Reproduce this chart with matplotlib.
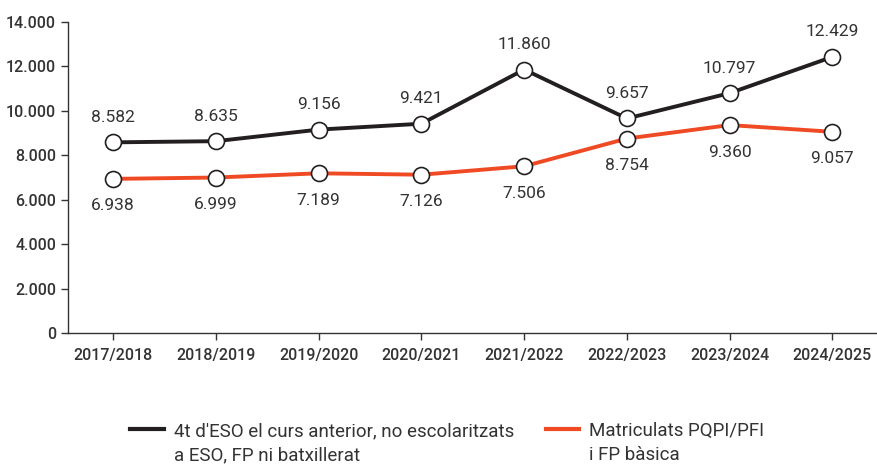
import matplotlib.pyplot as plt
from matplotlib.legend_handler import HandlerLine2D
from matplotlib.lines import Line2D
from matplotlib.ticker import FuncFormatter

cursos = ['2017/2018', '2018/2019', '2019/2020', '2020/2021',
          '2021/2022', '2022/2023', '2023/2024', '2024/2025']
no_escolaritzats = [8582, 8635, 9156, 9421, 11860, 9657, 10797, 12429]
matriculats = [6938, 6999, 7189, 7126, 7506, 8754, 9360, 9057]

label_negre = "4t d'ESO el curs anterior, no escolaritzats\na ESO, FP ni batxillerat"
label_vermell = 'Matriculats PQPI/PFI\ni FP bàsica'

plt.rcParams['font.family'] = ['Roboto', 'DejaVu Sans']
text_color = '#333333'
negre = '#231f20'
vermell = '#ef4a24'


def punts(n):
    return f'{n:,}'.replace(',', '.')


# legend line sits on the first line of the label, not in the middle
class HandlerTop(HandlerLine2D):
    def create_artists(self, legend, orig_handle, xdescent, ydescent,
                       width, height, fontsize, trans):
        return super().create_artists(legend, orig_handle, xdescent,
                                      ydescent - 1.55 * fontsize, width, height,
                                      fontsize, trans)


fig = plt.figure(figsize=(8.77, 4.66), dpi=100)
ax = fig.add_axes([0.0775, 0.2854, 0.922, 0.6674])

x = list(range(len(cursos)))
ax.plot(x, no_escolaritzats, color=negre, lw=2.8, marker='o', ms=11.5,
        mfc='white', mec=negre, mew=1.2, zorder=3)
ax.plot(x, matriculats, color=vermell, lw=2.8, marker='o', ms=11.5,
        mfc='white', mec=negre, mew=1.2, zorder=3)

for i, v in enumerate(no_escolaritzats):
    ax.annotate(punts(v), (i, v), xytext=(0, 18), textcoords='offset points',
                ha='center', va='center', fontsize=12.5, color=text_color)
for i, v in enumerate(matriculats):
    ax.annotate(punts(v), (i, v), xytext=(0, -19.5), textcoords='offset points',
                ha='center', va='center', fontsize=12.5, color=text_color)

ax.set_xlim(-0.44, 7.43)
ax.set_ylim(0, 14000)
ax.set_yticks(range(0, 14001, 2000))
ax.yaxis.set_major_formatter(FuncFormatter(lambda v, p: punts(int(v))))
ax.set_xticks(x)
ax.set_xticklabels(cursos)

for s in ['top', 'right']:
    ax.spines[s].set_visible(False)
for s in ['left', 'bottom']:
    ax.spines[s].set_color('#333333')
    ax.spines[s].set_linewidth(1.0)
ax.tick_params(colors='#333333', labelcolor=text_color, labelsize=11.5,
               length=5, width=1)
ax.tick_params(axis='x', pad=6)
for t in ax.get_xticklabels() + ax.get_yticklabels():
    t.set_fontweight('medium')

handles = [Line2D([], [], color=negre, lw=3), Line2D([], [], color=vermell, lw=3)]
leg = ax.legend(handles, [label_negre, label_vermell], loc='upper center',
                bbox_to_anchor=(0.469, -0.233), ncol=2, frameon=False,
                fontsize=13.5, handlelength=1.8, handletextpad=0.5,
                columnspacing=1.7, labelspacing=0.2, labelcolor=text_color,
                handler_map={Line2D: HandlerTop()})
for t in leg.get_texts():
    t.set_linespacing(1.4)

fig.savefig('out.png', dpi=100)
